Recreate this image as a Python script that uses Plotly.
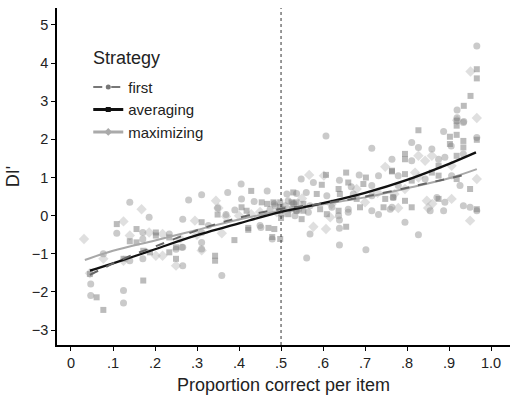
import plotly.graph_objects as go

# ---------------- data ----------------
first_x = [0.14,0.186,0.109,0.234,0.171,0.171,0.171,0.25,0.266,0.266,0.077,0.14,0.047,0.047,0.125,0.125,0.266,0.28,
           0.405,0.311,0.373,0.467,0.406,0.436,0.484,0.514,0.39,0.349,0.369,0.327,0.45,0.311,0.479,0.264,0.311,0.311,0.359,
           0.716,0.764,0.548,0.577,0.686,0.732,0.639,0.667,0.716,0.537,0.56,0.609,0.672,0.716,0.767,0.531,0.569,0.621,0.66,
           0.716,0.76,0.565,0.637,0.66,0.732,0.639,0.639,0.569,0.639,0.702,0.561,
           0.934,0.887,0.966,0.811,0.827,0.905,0.859,0.811,0.875,0.89,0.934,0.779,0.843,0.906,0.926,0.779,0.764,0.871,0.89,
           0.887,0.934,0.95,0.966,0.795,0.855,0.827,
           0.966,0.919,0.919,0.935,0.607,0.452,
           0.517,0.51,0.542,0.474,0.502,0.533,0.486,0.529,0.537]
first_y = [0.35,-0.04,-0.46,-0.48,-0.44,-0.61,-1.13,-0.88,-0.83,-1.31,-1.0,-1.18,-1.79,-2.09,-1.96,-2.29,-0.09,0.41,
           0.83,0.55,0.61,0.65,0.44,0.37,0.31,0.57,0.15,0.20,0.03,-0.26,-0.26,-0.44,-0.61,-0.83,-0.70,-0.87,-1.57,
           1.77,1.48,0.96,0.87,1.07,1.05,0.93,0.76,0.79,0.58,0.61,0.52,0.57,0.52,0.48,0.31,0.26,0.22,0.17,
           0.13,0.17,0.09,0.0,0.09,0.03,-0.11,-0.33,-0.48,-0.77,-0.89,-1.11,
           2.44,2.21,2.05,1.92,1.79,1.83,1.75,1.44,1.48,1.53,1.62,1.05,0.96,1.05,0.79,0.79,0.22,0.48,0.35,
           0.13,0.26,0.22,0.13,-0.17,0.13,-0.50,
           4.45,2.77,2.57,2.47,2.09,-0.31,
           0.39,0.26,0.17,0.17,0.04,0.0,0.26,0.31,0.13]

avg_x = [0.109,0.156,0.14,0.156,0.202,0.202,0.234,0.172,0.188,0.234,0.25,0.25,0.125,0.045,0.061,0.077,0.172,
         0.429,0.454,0.467,0.406,0.349,0.418,0.311,0.422,0.422,0.47,0.484,0.389,0.498,0.343,0.343,
         0.607,0.655,0.702,0.764,0.597,0.66,0.696,0.585,0.637,0.64,0.68,0.748,0.525,0.553,0.593,0.637,0.688,0.744,
         0.537,0.609,0.549,0.655,
         0.918,0.918,0.827,0.902,0.918,0.934,0.966,0.902,0.934,0.795,0.795,0.918,0.875,0.764,0.795,0.811,0.859,
         0.875,0.918,0.95,0.767,0.795,0.811,0.875,0.966,
         0.966,0.966,0.951,0.935,0.479,
         0.482,0.529,0.537,0.498,0.525,0.553,0.517,0.50,0.498,0.498,0.505]
avg_y = [-0.22,-0.35,-0.67,-0.70,-0.44,-0.52,-0.57,-0.92,-0.96,-0.96,-0.83,-1.13,-1.13,-1.53,-2.14,-2.47,-1.70,
         0.65,0.35,0.31,0.22,0.03,0.13,-0.17,-0.32,-0.37,-0.32,-0.35,-0.64,-0.61,-1.05,-1.18,
         1.07,1.13,1.0,1.16,0.81,0.87,0.83,0.57,0.70,0.57,0.44,0.44,0.35,0.31,0.17,0.13,0.22,0.22,
         0.13,0.04,-0.09,-0.29,
         2.49,2.36,2.24,2.07,2.12,1.96,1.99,1.88,1.79,1.62,1.48,1.57,1.31,1.18,1.09,0.92,1.13,
         1.05,0.96,0.70,0.48,0.39,0.22,0.44,0.17,
         3.84,3.60,3.14,2.88,-0.56,
         0.35,0.61,0.35,0.22,0.17,0.13,0.04,-0.06,0.35,0.13,0.17]

max_x = [0.168,0.125,0.031,0.14,0.186,0.218,0.202,0.218,0.25,0.077,0.125,0.045,
         0.345,0.369,0.429,0.295,0.359,0.311,0.351,
         0.748,0.567,0.602,0.77,0.617,0.577,0.607,
         0.966,0.827,0.843,0.859,0.906,0.819,0.827,0.966,0.795,0.779,0.847,0.86,0.906,0.95,
         0.951,0.919,0.85,0.49,0.45,0.55,0.62,0.70,0.73,0.68,0.40,0.26,0.30]
max_y = [0.17,-0.15,-0.61,-0.52,-0.44,-0.48,-1.05,-1.05,-1.31,-1.13,-1.18,-1.51,
         0.39,-0.02,0.04,-0.13,-0.46,-0.91,0.20,
         1.28,1.07,1.05,0.57,-0.04,-0.29,-0.35,
         2.56,1.57,1.44,1.57,1.31,1.13,1.0,0.96,0.70,0.20,0.39,0.31,0.44,-0.13,
         3.78,2.5,0.2,0.09,0.10,0.45,0.30,0.35,0.60,0.70,0.0,-0.60,-0.50]

# fitted curves
first_fit_x = [0.045,0.125,0.204,0.339,0.474,0.6,0.7,0.823,0.944]
first_fit_y = [-1.55,-1.13,-0.79,-0.24,0.13,0.32,0.50,0.79,1.09]
avg_fit_x = [0.045,0.1,0.2,0.283,0.4,0.5,0.6,0.7,0.8,0.9,0.964]
avg_fit_y = [-1.44,-1.25,-0.88,-0.57,-0.20,0.10,0.33,0.60,0.94,1.36,1.66]
max_fit_x = [0.033,0.1,0.2,0.283,0.4,0.5,0.6,0.7,0.8,0.9,0.966]
max_fit_y = [-1.16,-0.92,-0.65,-0.42,-0.10,0.13,0.30,0.48,0.72,0.98,1.22]

x_ticks = [0, 0.1, 0.2, 0.3, 0.4, 0.5, 0.6, 0.7, 0.8, 0.9, 1.0]
x_tick_labels = ["0", ".1", ".2", ".3", ".4", ".5", ".6", ".7", ".8", ".9", "1.0"]
y_ticks = [-3, -2, -1, 0, 1, 2, 3, 4, 5]
y_tick_labels = ["\u22123", "\u22122", "\u22121", "0", "1", "2", "3", "4", "5"]
cut_x = 0.5

FONT = "Liberation Sans, Arial, sans-serif"
TXT = "#222222"

fig = go.Figure()

# scatter points (not in legend)
fig.add_trace(go.Scatter(x=max_x, y=max_y, mode="markers", showlegend=False, hoverinfo="skip",
                         marker=dict(symbol="diamond", size=8, color="rgba(185,185,185,0.45)", line=dict(width=0))))
fig.add_trace(go.Scatter(x=first_x, y=first_y, mode="markers", showlegend=False, hoverinfo="skip",
                         marker=dict(symbol="circle", size=7, color="rgba(150,150,150,0.5)", line=dict(width=0))))
fig.add_trace(go.Scatter(x=avg_x, y=avg_y, mode="markers", showlegend=False, hoverinfo="skip",
                         marker=dict(symbol="square", size=6, color="rgba(120,120,120,0.5)", line=dict(width=0))))

# vertical dotted line at .5
fig.add_vline(x=cut_x, line=dict(color="#333333", width=1, dash="dot"))

# fit lines
fig.add_trace(go.Scatter(x=max_fit_x, y=max_fit_y, mode="lines", showlegend=False,
                         line=dict(color="#a8a8a8", width=2, shape="spline")))
fig.add_trace(go.Scatter(x=avg_fit_x, y=avg_fit_y, mode="lines", showlegend=False,
                         line=dict(color="#111111", width=2.3, shape="spline")))
fig.add_trace(go.Scatter(x=first_fit_x, y=first_fit_y, mode="lines", showlegend=False,
                         line=dict(color="#666666", width=2, dash="dash", shape="spline")))

# legend entries
fig.add_trace(go.Scatter(x=[None], y=[None], mode="lines+markers", name="first",
                         line=dict(color="#777777", width=2, dash="dash"),
                         marker=dict(symbol="circle", size=5, color="#777777")))
fig.add_trace(go.Scatter(x=[None], y=[None], mode="lines+markers", name="averaging",
                         line=dict(color="#111111", width=3),
                         marker=dict(symbol="square", size=5, color="#111111")))
fig.add_trace(go.Scatter(x=[None], y=[None], mode="lines+markers", name="maximizing",
                         line=dict(color="#aaaaaa", width=3),
                         marker=dict(symbol="diamond", size=6, color="#aaaaaa")))

fig.add_annotation(text="Strategy", xref="paper", yref="paper", x=0.075, y=0.852,
                   xanchor="left", yanchor="middle", showarrow=False,
                   font=dict(size=18, color=TXT, family=FONT))

fig.update_layout(
    width=512, height=397,
    margin=dict(l=57, r=2, t=8, b=52),
    paper_bgcolor="white", plot_bgcolor="white",
    font=dict(family=FONT, color=TXT),
    legend=dict(
        font=dict(size=15, color=TXT),
        x=0.069, y=0.814, xanchor="left", yanchor="top",
        bgcolor="rgba(0,0,0,0)", tracegroupgap=0, itemwidth=30,
    ),
    xaxis=dict(
        range=[-0.0333, 1.045], showgrid=False, zeroline=False,
        showline=True, linecolor="black", linewidth=1.5,
        ticks="outside", ticklen=4, tickcolor="black",
        tickvals=x_ticks, ticktext=x_tick_labels,
        tickfont=dict(size=14.5, color=TXT),
        title=dict(text="Proportion correct per item", font=dict(size=18, color=TXT), standoff=8),
    ),
    yaxis=dict(
        range=[-3.39, 5.445], showgrid=False, zeroline=False,
        showline=True, linecolor="black", linewidth=1.5,
        ticks="outside", ticklen=4, tickcolor="black",
        tickvals=y_ticks, ticktext=y_tick_labels,
        tickfont=dict(size=14.5, color=TXT),
        title=dict(text="DI'", font=dict(size=18, color=TXT), standoff=8),
    ),
)

fig.write_html("out.html", config={"displayModeBar": False},
               post_script="document.body.style.margin='0px';")
